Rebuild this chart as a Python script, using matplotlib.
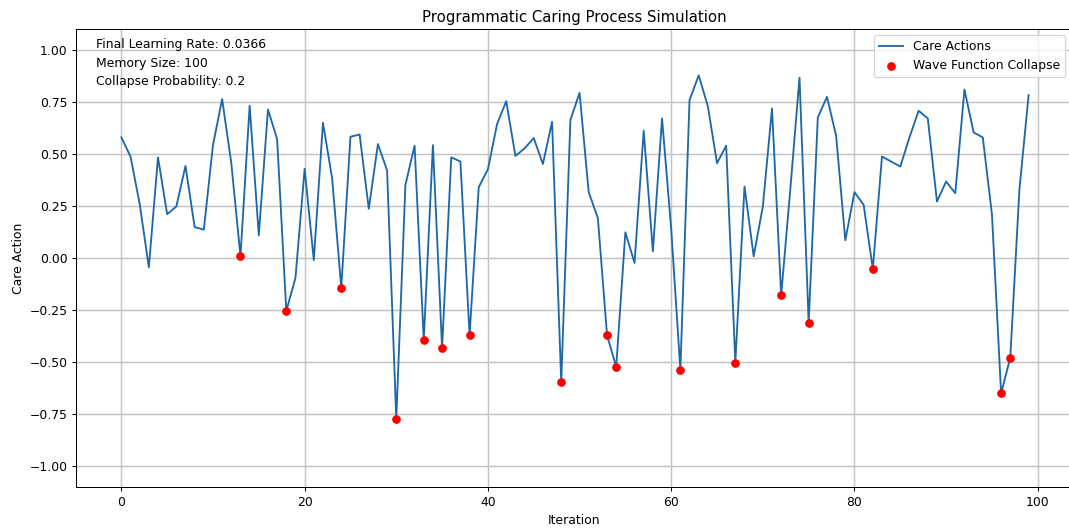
import numpy as np
import matplotlib.pyplot as plt

# care action value at each iteration
iterations = np.arange(100)
care_actions = [
    0.579, 0.487, 0.26, -0.045, 0.483, 0.21, 0.247, 0.442, 0.148, 0.136,
    0.542, 0.763, 0.455, 0.008, 0.731, 0.108, 0.713, 0.571, -0.255, -0.096,
    0.428, -0.010, 0.649, 0.383, -0.144, 0.582, 0.593, 0.236, 0.547, 0.420,
    -0.774, 0.351, 0.539, -0.396, 0.542, -0.434, 0.483, 0.463, -0.372, 0.340,
    0.426, 0.643, 0.753, 0.490, 0.526, 0.576, 0.451, 0.654, -0.598, 0.662,
    0.793, 0.316, 0.191, -0.372, -0.523, 0.123, -0.024, 0.611, 0.032, 0.670,
    0.14, -0.538, 0.758, 0.877, 0.729, 0.455, 0.539, -0.503, 0.343, 0.008,
    0.247, 0.718, -0.179, 0.33, 0.866, -0.311, 0.675, 0.774, 0.586, 0.085,
    0.316, 0.255, -0.053, 0.487, 0.463, 0.439, 0.579, 0.707, 0.670, 0.271,
    0.367, 0.311, 0.809, 0.603, 0.579, 0.21, -0.651, -0.479, 0.33, 0.782,
]

# iterations where the wave function collapsed
collapse_iters = [13, 18, 24, 30, 33, 35, 38, 48, 53, 54, 61, 67, 72, 75, 82, 96, 97]

final_lr = 0.0366
memory_size = 100
collapse_prob = 0.2

collapse_vals = [care_actions[i] for i in collapse_iters]

fig = plt.figure(figsize=(1069 / 89, 531 / 89), dpi=89)
ax = fig.add_axes([0.0715, 0.083, 0.931, 0.8625])

ax.plot(iterations, care_actions, color='#1f68a8', label='Care Actions')
ax.scatter(collapse_iters, collapse_vals, color='red', label='Wave Function Collapse', zorder=3)

ax.set_title('Programmatic Caring Process Simulation')
ax.set_xlabel('Iteration')
ax.set_ylabel('Care Action')
ax.set_xlim(-4.9, 103.7)
ax.set_ylim(-1.1, 1.1)
ax.grid(True, color='#c4c4c4', linewidth=1.2)
ax.legend(loc='upper right')

info = f'Final Learning Rate: {final_lr}\nMemory Size: {memory_size}\nCollapse Probability: {collapse_prob}'
ax.text(0.02, 0.98, info, transform=ax.transAxes, va='top', linespacing=1.55)

fig.savefig('out.png', dpi=89)
